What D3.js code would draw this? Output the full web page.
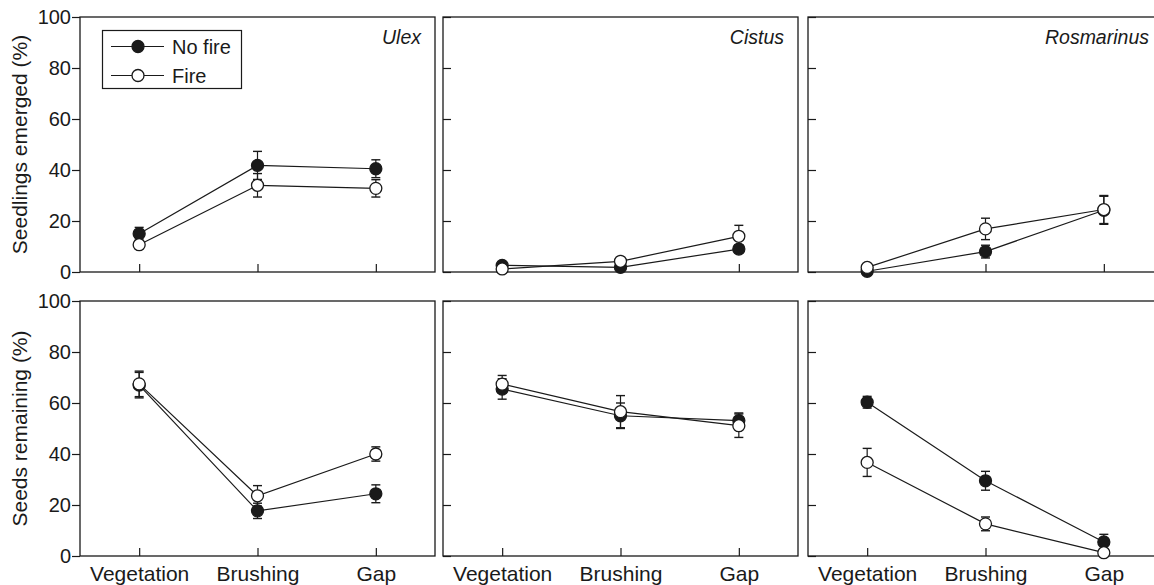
<!DOCTYPE html>
<html>
<head>
<meta charset="utf-8">
<script src="https://cdn.jsdelivr.net/npm/d3@7"></script>
<style>
  html, body { margin: 0; padding: 0; background: #fff; overflow: hidden; }
  svg { display: block; font-family: "Liberation Sans", Arial, Helvetica, sans-serif; }
</style>
</head>
<body>
<svg id="chart" width="1154" height="585"></svg>
<script>
// ---- data ----
const categories = ["Vegetation", "Brushing", "Gap"];
const species = ["Ulex", "Cistus", "Rosmarinus"];
const seriesNames = ["No fire", "Fire"];
const yTicks = [0, 20, 40, 60, 80, 100];
const rowTitles = ["Seedlings emerged (%)", "Seeds remaining (%)"];

// rows: species; columns: categories
const emergedNoFire   = [[15.0, 41.8, 40.5], [2.6, 1.8, 9.0], [0.3, 8.0, 24.2]];
const emergedNoFireSE = [[2.5, 5.5, 3.5], [0.8, 0.8, 1.5], [0.5, 2.5, 5.5]];
const emergedFire     = [[10.7, 34.0, 32.8], [1.2, 4.2, 14.0], [1.8, 16.9, 24.5]];
const emergedFireSE   = [[1.5, 4.6, 3.4], [0.5, 1.0, 4.3], [0.8, 4.2, 5.5]];

const remainingNoFire   = [[67.0, 17.7, 24.4], [65.5, 55.0, 53.1], [60.3, 29.5, 5.5]];
const remainingNoFireSE = [[5.0, 3.0, 3.5], [4.0, 5.0, 3.0], [2.3, 3.7, 3.0]];
const remainingFire     = [[67.5, 23.6, 40.0], [67.4, 56.6, 51.1], [36.7, 12.6, 1.3]];
const remainingFireSE   = [[5.0, 4.0, 2.8], [3.4, 6.3, 4.6], [5.5, 2.7, 0.8]];

const rows = [
  { noFire: emergedNoFire, noFireSE: emergedNoFireSE, fire: emergedFire, fireSE: emergedFireSE },
  { noFire: remainingNoFire, noFireSE: remainingNoFireSE, fire: remainingFire, fireSE: remainingFireSE }
];

// ---- layout ----
const panelLeft = [80, 443, 808];
const panelW = 355;
const rowTop = [17, 301];
const panelH = 255;
const ink = "#1a1a1a";

const svg = d3.select("#chart");

const x = d3.scalePoint().domain(categories).range([0, panelW]).padding(0.5);

rows.forEach((row, r) => {
  const y = d3.scaleLinear().domain([0, 100]).range([panelH, 0]);
  species.forEach((sp, s) => {
    const g = svg.append("g").attr("transform", `translate(${panelLeft[s]},${rowTop[r]})`);

    // frame
    g.append("rect").attr("x", 0).attr("y", 0).attr("width", panelW).attr("height", panelH)
      .attr("fill", "none").attr("stroke", ink).attr("stroke-width", 1.3);

    // y axis
    const yAxis = s === 0
      ? d3.axisLeft(y).tickValues(yTicks).tickSize(8).tickPadding(1)
      : d3.axisLeft(y).tickValues(yTicks).tickSize(-8).tickFormat("");
    const ya = g.append("g").call(yAxis);
    ya.select(".domain").remove();
    ya.selectAll("line").attr("stroke", ink).attr("stroke-width", 1.2);
    ya.selectAll("text").attr("fill", ink).style("font-size", "20px");

    // x axis
    const xAxis = d3.axisBottom(x).tickSize(-8);
    if (r === 0) xAxis.tickFormat("");
    const xa = g.append("g").attr("transform", `translate(0,${panelH})`).call(xAxis);
    xa.select(".domain").remove();
    xa.selectAll("line").attr("stroke", ink).attr("stroke-width", 1.2);
    xa.selectAll("text").attr("fill", ink).attr("dy", null).attr("y", 25).style("font-size", "21px");

    // panel title
    if (r === 0) {
      g.append("text").attr("x", panelW - 14).attr("y", 27).attr("text-anchor", "end")
        .style("font-size", "19.5px").style("font-style", "italic").attr("fill", ink).text(sp);
    }

    const seriesData = [
      { name: seriesNames[0], vals: row.noFire[s], se: row.noFireSE[s], fill: ink },
      { name: seriesNames[1], vals: row.fire[s], se: row.fireSE[s], fill: "#fff" }
    ];

    const line = d3.line().x((d, i) => x(categories[i])).y(d => y(d));
    seriesData.forEach(sd => {
      g.append("path").datum(sd.vals).attr("d", line)
        .attr("fill", "none").attr("stroke", ink).attr("stroke-width", 1.2);
    });
    seriesData.forEach(sd => {
      const eb = g.append("g");
      sd.vals.forEach((v, i) => {
        const cx = x(categories[i]);
        const y1 = y(v + sd.se[i]), y0 = y(Math.max(0, v - sd.se[i]));
        eb.append("line").attr("x1", cx).attr("x2", cx).attr("y1", y1).attr("y2", y0)
          .attr("stroke", ink).attr("stroke-width", 1.2);
        [y1, y0].forEach(yy => eb.append("line").attr("x1", cx - 4.5).attr("x2", cx + 4.5)
          .attr("y1", yy).attr("y2", yy).attr("stroke", ink).attr("stroke-width", 1.4));
      });
    });
    seriesData.forEach(sd => {
      g.append("g").selectAll("circle").data(sd.vals).join("circle")
        .attr("cx", (d, i) => x(categories[i])).attr("cy", d => y(d)).attr("r", 6)
        .attr("fill", sd.fill).attr("stroke", ink).attr("stroke-width", 1.3);
    });
  });

  // row y-axis title
  svg.append("text")
    .attr("transform", `translate(27,${rowTop[r] + panelH / 2}) rotate(-90)`)
    .attr("text-anchor", "middle").style("font-size", "21px").attr("fill", ink)
    .text(rowTitles[r]);
});

// legend
const lg = svg.append("g");
lg.append("rect").attr("x", 102.5).attr("y", 30.5).attr("width", 139).attr("height", 58)
  .attr("fill", "#fff").attr("stroke", ink).attr("stroke-width", 1.2);
const legendRows = [
  { name: seriesNames[0], fill: ink, cy: 46.5 },
  { name: seriesNames[1], fill: "#fff", cy: 75.5 }
];
legendRows.forEach(d => {
  lg.append("line").attr("x1", 111).attr("x2", 164).attr("y1", d.cy).attr("y2", d.cy)
    .attr("stroke", ink).attr("stroke-width", 1.2);
  lg.append("circle").attr("cx", 138).attr("cy", d.cy).attr("r", 6)
    .attr("fill", d.fill).attr("stroke", ink).attr("stroke-width", 1.3);
  lg.append("text").attr("x", 172).attr("y", d.cy + 7).style("font-size", "20px")
    .attr("fill", ink).text(d.name);
});
</script>
</body>
</html>
